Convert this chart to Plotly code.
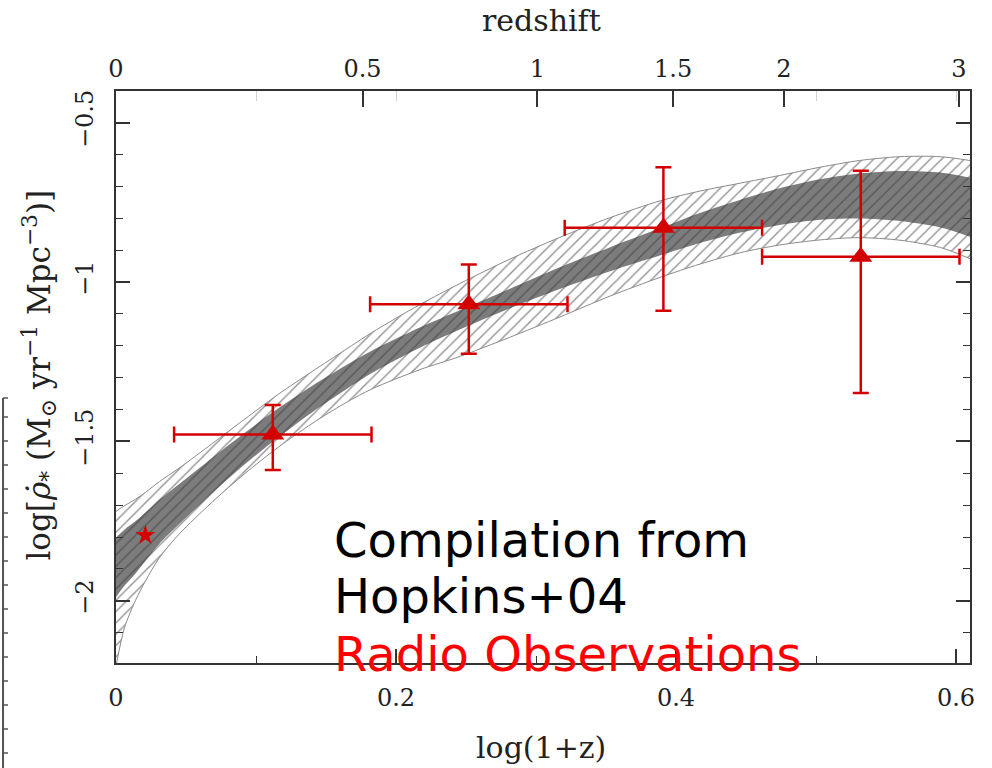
import numpy as np
import plotly.graph_objects as go

# ---------------- data ----------------
band_x   = [0.0, 0.006, 0.014, 0.021, 0.031, 0.045, 0.069, 0.092, 0.116, 0.140, 0.164, 0.183, 0.217,
            0.246, 0.281, 0.317, 0.353, 0.389, 0.417, 0.446, 0.474, 0.503, 0.531, 0.560, 0.589, 0.610]
outer_hi = [-1.719, -1.702, -1.681, -1.660, -1.626, -1.584, -1.506, -1.430, -1.352, -1.281, -1.212, -1.158, -1.071,
            -1.004, -0.929, -0.860, -0.798, -0.745, -0.715, -0.690, -0.666, -0.640, -0.619, -0.607, -0.607, -0.619]
dark_hi  = [-1.801, -1.777, -1.750, -1.723, -1.683, -1.634, -1.551, -1.473, -1.396, -1.326, -1.262, -1.215, -1.143,
            -1.088, -1.022, -0.954, -0.891, -0.831, -0.784, -0.742, -0.706, -0.678, -0.660, -0.652, -0.657, -0.673]
dark_lo  = [-1.989, -1.953, -1.914, -1.875, -1.821, -1.760, -1.661, -1.572, -1.487, -1.409, -1.338, -1.285, -1.206,
            -1.148, -1.083, -1.022, -0.966, -0.916, -0.878, -0.845, -0.821, -0.805, -0.801, -0.809, -0.829, -0.858]
outer_lo = [-2.205, -2.085, -1.998, -1.938, -1.865, -1.791, -1.689, -1.601, -1.518, -1.444, -1.379, -1.335, -1.275,
            -1.233, -1.174, -1.110, -1.044, -0.985, -0.944, -0.908, -0.884, -0.868, -0.861, -0.869, -0.892, -0.927]

radio_x      = [0.112, 0.252, 0.391, 0.532]
radio_y      = [-1.478, -1.070, -0.830, -0.921]
radio_xerr   = [0.0705, 0.0705, 0.0705, 0.0705]
radio_eplus  = [0.092, 0.125, 0.190, 0.270]
radio_eminus = [0.112, 0.155, 0.260, 0.427]

local_x = [0.021]
local_y = [-1.794]

x_ticks      = [0, 0.2, 0.4, 0.6]
x_ticktext   = ["0", "0.2", "0.4", "0.6"]
x_minor      = [0.1, 0.3, 0.5]
y_ticks      = [-2, -1.5, -1, -0.5]
y_ticktext   = ["\u22122", "\u22121.5", "\u22121", "\u22120.5"]
y_minor      = [-2.1, -1.9, -1.8, -1.7, -1.6, -1.4, -1.3, -1.2, -1.1, -0.9, -0.8, -0.7, -0.6]
z_ticks      = [0, 0.5, 1, 1.5, 2, 3]
z_ticktext   = ["0", "0.5", "1", "1.5", "2", "3"]
top_faint    = [0.1, 0.2, 0.5, 0.6]

RED = "#d20000"
AX = "#333333"
SERIF = "DejaVu Serif"
SPL = dict(shape="spline", smoothing=0.8)

fig = go.Figure()

# outer hatched band
fig.add_trace(go.Scatter(x=band_x, y=outer_lo, mode="lines", line=dict(color="#8a8a8a", width=1, **SPL),
                         showlegend=False, hoverinfo="skip"))
fig.add_trace(go.Scatter(x=band_x, y=outer_hi, mode="lines", line=dict(color="#8a8a8a", width=1, **SPL),
                         fill="tonexty", fillcolor="white",
                         fillpattern=dict(shape="/", fgcolor="#2a2a2a", bgcolor="white", size=8, solidity=0.18),
                         showlegend=False, hoverinfo="skip"))
# dark inner band
fig.add_trace(go.Scatter(x=band_x, y=dark_lo, mode="lines", line=dict(color="rgba(0,0,0,0)", width=0, **SPL),
                         showlegend=False, hoverinfo="skip"))
fig.add_trace(go.Scatter(x=band_x, y=dark_hi, mode="lines", line=dict(color="rgba(0,0,0,0)", width=0, **SPL),
                         fill="tonexty", fillcolor="#7c7c7c",
                         fillpattern=dict(shape="/", fgcolor="#333333", bgcolor="#7c7c7c", size=8, solidity=0.18),
                         showlegend=False, hoverinfo="skip"))

# radio points
fig.add_trace(go.Scatter(x=radio_x, y=radio_y, mode="markers",
                         marker=dict(symbol="triangle-up", size=20, color=RED),
                         error_x=dict(type="data", array=radio_xerr, color=RED, thickness=2.5, width=8),
                         error_y=dict(type="data", symmetric=False, array=radio_eplus, arrayminus=radio_eminus,
                                      color=RED, thickness=2.5, width=8),
                         showlegend=False))
fig.add_trace(go.Scatter(x=local_x, y=local_y, mode="markers",
                         marker=dict(symbol="star", size=15, color=RED),
                         showlegend=False))

# dummy traces so the top axes exist
fig.add_trace(go.Scatter(x=[None], y=[None], xaxis="x2", showlegend=False, hoverinfo="skip"))
fig.add_trace(go.Scatter(x=[None], y=[None], xaxis="x3", showlegend=False, hoverinfo="skip"))

tickfont = dict(family=SERIF, size=24, color="#222222")

fig.update_layout(
    width=992, height=768,
    margin=dict(l=116, r=22, t=91, b=105),
    paper_bgcolor="white", plot_bgcolor="white",
    xaxis=dict(range=[0, 0.61], tickmode="array", tickvals=x_ticks, ticktext=x_ticktext,
               ticks="inside", ticklen=14, tickwidth=1.5, tickcolor=AX,
               minor=dict(tickmode="array", tickvals=x_minor, ticks="inside", ticklen=7, tickwidth=1.3, tickcolor=AX),
               showline=True, linecolor=AX, linewidth=1.5, mirror=True,
               showgrid=False, zeroline=False, tickfont=tickfont, ticklabelstandoff=12),
    xaxis2=dict(range=[0, 0.61], overlaying="x", side="top", anchor="y", tickmode="array",
                tickvals=list(np.log10(1 + np.array(z_ticks))), ticktext=z_ticktext,
                ticks="inside", ticklen=16, tickwidth=1.5, tickcolor=AX,
                showline=False, showgrid=False, zeroline=False, tickfont=tickfont, ticklabelstandoff=8),
    xaxis3=dict(range=[0, 0.61], overlaying="x", side="top", anchor="y", tickmode="array",
                tickvals=top_faint, ticks="inside", ticklen=10, tickwidth=1.2, tickcolor="#d0d0d0",
                showticklabels=False, showline=False, showgrid=False, zeroline=False),
    yaxis=dict(range=[-2.195, -0.401], tickmode="array", tickvals=y_ticks, ticktext=y_ticktext,
               ticks="inside", ticklen=14, tickwidth=1.5, tickcolor=AX,
               minor=dict(tickmode="array", tickvals=y_minor, ticks="inside", ticklen=7, tickwidth=1.3, tickcolor=AX),
               showline=True, linecolor=AX, linewidth=1.5, mirror="ticks",
               showgrid=False, zeroline=False, tickfont=tickfont, tickangle=-90, ticklabelstandoff=12),
)

# axis titles
fig.add_annotation(text="redshift", xref="paper", yref="paper", x=0.4977, y=1.124,
                   xanchor="center", yanchor="middle", showarrow=False,
                   font=dict(family=SERIF, size=30, color="#222222"))
fig.add_annotation(text="log(1+z)", xref="paper", yref="paper", x=0.4977, y=-0.1486,
                   xanchor="center", yanchor="middle", showarrow=False,
                   font=dict(family=SERIF, size=30, color="#222222"))
fig.add_annotation(text="log[<i>\u03c1\u0307</i><sub>*</sub> (M<sub>\u2299</sub> yr<sup>\u22121</sup> Mpc<sup>\u22123</sup>)]",
                   xref="paper", yref="paper", x=-0.0895, y=0.5035, textangle=-90,
                   xanchor="center", yanchor="middle", showarrow=False,
                   font=dict(family=SERIF, size=31, color="#222222"))

# in-plot text
SANS = "DejaVu Sans"
fig.add_annotation(text="Compilation from", xref="paper", yref="paper", x=0.2530, y=0.2142,
                   xanchor="left", yanchor="middle", showarrow=False,
                   font=dict(family=SANS, size=48, color="black"))
fig.add_annotation(text="Hopkins+04", xref="paper", yref="paper", x=0.2530, y=0.1163,
                   xanchor="left", yanchor="middle", showarrow=False,
                   font=dict(family=SANS, size=48, color="black"))
fig.add_annotation(text="Radio Observations", xref="paper", yref="paper", x=0.2530, y=0.0166,
                   xanchor="left", yanchor="middle", showarrow=False,
                   font=dict(family=SANS, size=48, color="#ff0000"))

# cropped neighbouring axis at far left edge (decoration)
shapes = [dict(type="line", xref="paper", yref="paper", x0=-0.1323, x1=-0.1323, y0=0.4633, y1=-0.1836,
               line=dict(color="#555555", width=2))]
tick_px = [398, 417, 441, 465, 489, 513, 537, 561, 585, 609, 633, 657, 681, 705, 729, 753]
for Y in tick_px:
    yp = (663 - Y) / 572
    shapes.append(dict(type="line", xref="paper", yref="paper", x0=-0.1323, x1=-0.1265, y0=yp, y1=yp,
                       line=dict(color="#555555", width=1.5)))
fig.update_layout(shapes=shapes)

fig.write_html("out.html")
